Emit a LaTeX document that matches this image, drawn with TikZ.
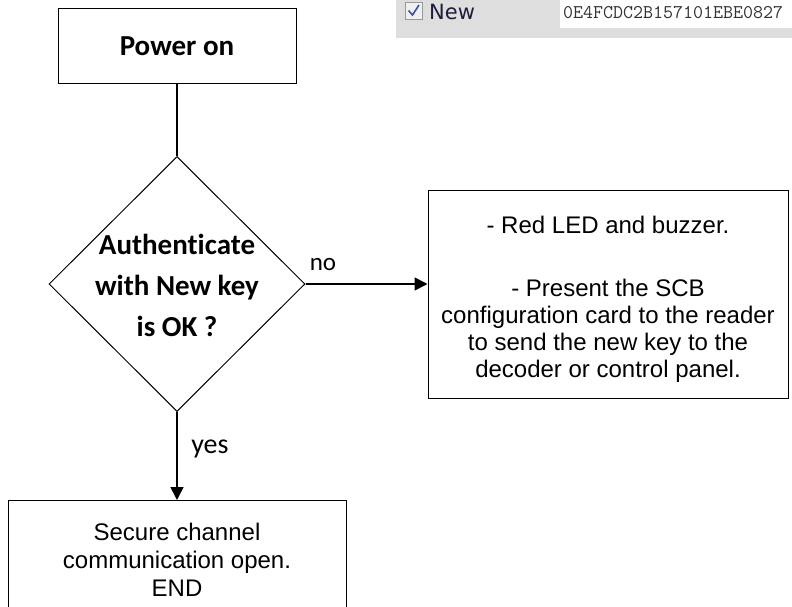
\documentclass[tikz,border=0pt]{standalone}
\usepackage{fontspec}
\setmainfont{Liberation Sans}
\newfontfamily\calibri[RawFeature={-liga;-clig;-calt;-dlig}]{Carlito}
\newfontfamily\tahomafont{DejaVu Sans}
\usetikzlibrary{arrows.meta, shapes.geometric, positioning}

\definecolor{panelgray}{HTML}{DEDEDE}
\definecolor{checkblue}{HTML}{3A4FA8}
\definecolor{labelnavy}{HTML}{1E1E3C}

\tikzset{
  box/.style={draw, rectangle, line width=1pt, inner sep=0pt},
  decision/.style={draw, diamond, line width=1pt, inner sep=0pt,
    minimum width=256pt, minimum height=255pt},
  flowline/.style={line width=1.6pt},
  flowarrow/.style={line width=1.6pt, -{Triangle[length=13pt, width=13pt]}},
  boldtext/.style={font=\calibri\bfseries\fontsize{29}{41}\selectfont, align=center},
  plaintext/.style={font=\fontsize{24}{27}\selectfont, align=center},
  answer/.style={font=\calibri\fontsize{25}{30}\selectfont}
}

\begin{document}
\begin{tikzpicture}[x=1pt, y=-1pt]
    \clip (0,0) rectangle (792,607);

    % Screenshot strip at the top
    \fill[panelgray] (396,0) rectangle (792,38);
    \fill[white] (560,0) rectangle (792,28);
    \draw[gray!80, fill=gray!12, line width=0.8pt] (405,2) rectangle (422,19);
    \draw[checkblue, line width=1.6pt] (408.5,10.5) -- (412.5,15) -- (419,5);
    \node[font=\tahomafont\fontsize{21}{24}\selectfont, text=labelnavy, anchor=west, inner sep=0pt] (newlabel) at (429,12) {New};
    \node[font=\ttfamily\fontsize{19.4}{22}\selectfont, text=black!80, anchor=west, inner sep=0pt] (keyvalue) at (563,13) {0E4FCDC2B157101EBE0827};

    % Draw flow chart nodes
    \node[box, minimum width=238pt, minimum height=75pt] (power) at (177,46.5) {};
    \node[boldtext] (powertext) at (power) {Power on};

    \node[decision] (auth) at (177,284) {};
    \node[boldtext] (authtext) at (177,285) {Authenticate\\with New key\\is OK ?};

    \node[box, minimum width=360pt, minimum height=208pt] (fail) at (608,294) {};
    \node[plaintext] (failtext) at (608,299) {- Red LED and buzzer.\\[36pt]- Present the SCB\\configuration card to the reader\\to send the new key to the\\decoder or control panel.};

    \node[box, minimum width=338pt, minimum height=120pt, anchor=north] (done) at (177,500) {};
    \node[plaintext, font=\fontsize{24}{28}\selectfont] (donetext) at (177,560) {Secure channel\\communication open.\\END};

    % Draw connectors
    \draw[flowline] (power.south) -- (auth.north);
    \draw[flowarrow] (auth.east) -- (auth.east -| fail.west);
    \draw[flowarrow] (auth.south) -- (done.north);

    % Label answers
    \node[answer] (no) at (323,265) {no};
    \node[answer, font=\calibri\fontsize{28}{32}\selectfont] (yes) at (210,449) {yes};

\end{tikzpicture}
\end{document}
